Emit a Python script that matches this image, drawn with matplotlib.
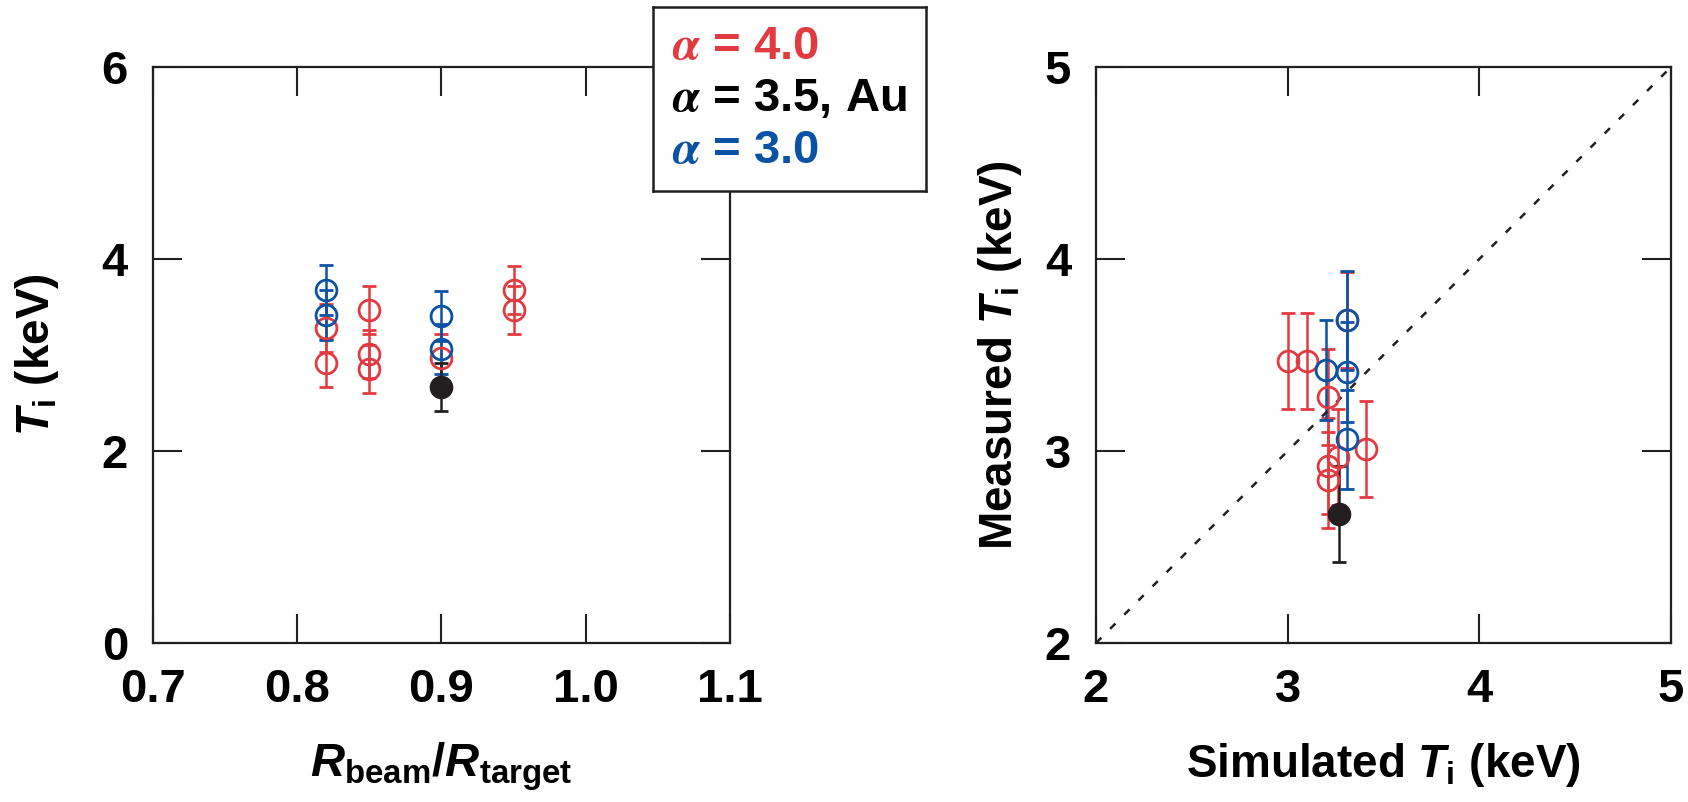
import numpy as np
import matplotlib
matplotlib.use("Agg")
import matplotlib.pyplot as plt

plt.rcParams.update({
    "font.family": ["Liberation Sans", "DejaVu Sans"],
    "font.weight": "bold",
    "axes.labelweight": "bold",
    "mathtext.fontset": "custom",
    "mathtext.rm": "Liberation Sans:bold",
    "mathtext.it": "Liberation Sans:italic:bold",
    "mathtext.bf": "Liberation Sans:bold",
})

RED = "#E23A41"
BLUE = "#0A53A4"
BLACK = "#231F20"

# alpha = 4.0 shots
red_ratio = [0.82, 0.82, 0.85, 0.85, 0.85, 0.90, 0.95, 0.95]
red_ti = [3.28, 2.92, 3.47, 3.01, 2.85, 2.97, 3.68, 3.47]
red_sim = [3.21, 3.21, 3.00, 3.41, 3.21, 3.26, 3.31, 3.10]
red_err = 0.25

# alpha = 3.0 shots
blue_ratio = [0.82, 0.82, 0.90, 0.90]
blue_ti = [3.68, 3.42, 3.41, 3.06]
blue_sim = [3.31, 3.20, 3.31, 3.31]
blue_err = 0.26

# alpha = 3.5, Au
au_ratio = [0.90]
au_ti = [2.67]
au_sim = [3.27]
au_err = 0.25

legend_rows = [(r"$\alpha$ = 4.0", RED), (r"$\alpha$ = 3.5, Au", "black"), (r"$\alpha$ = 3.0", BLUE)]

W, H = 1688, 802
fig = plt.figure(figsize=(W / 100, H / 100), dpi=100)

ax1 = fig.add_axes([153 / W, 1 - 643 / H, 577 / W, 576 / H])
ax2 = fig.add_axes([1096 / W, 1 - 643 / H, 575 / W, 576 / H])

def draw_series(ax, x, y, err, color, filled=False):
    ax.errorbar(x, y, yerr=err, fmt="o", ms=15, mew=2.0,
                mfc=color if filled else "none", mec=color, color=color,
                ecolor=color, elinewidth=1.8, capsize=5, capthick=1.8)

for ax, key in [(ax1, "ratio"), (ax2, "sim")]:
    rx = red_ratio if key == "ratio" else red_sim
    bx = blue_ratio if key == "ratio" else blue_sim
    ax_ = au_ratio if key == "ratio" else au_sim
    draw_series(ax, rx, red_ti, red_err, RED)
    draw_series(ax, bx, blue_ti, blue_err, BLUE)
    draw_series(ax, ax_, au_ti, au_err, BLACK, filled=True)

# y = x reference line
ax2.plot([2, 5], [2, 5], color=BLACK, lw=1.8, linestyle=(0, (3, 5)))

ax1.set_xlim(0.7, 1.1)
ax1.set_ylim(0, 6)
ax1.set_xticks([0.7, 0.8, 0.9, 1.0, 1.1])
ax1.set_xticklabels(["0.7", "0.8", "0.9", "1.0", "1.1"])
ax1.set_yticks([0, 2, 4, 6])

ax2.set_xlim(2, 5)
ax2.set_ylim(2, 5)
ax2.set_xticks([2, 3, 4, 5])
ax2.set_yticks([2, 3, 4, 5])

for ax in (ax1, ax2):
    for s in ax.spines.values():
        s.set_linewidth(1.6)
        s.set_color(BLACK)
    ax.tick_params(direction="in", length=21, width=1.5, color=BLACK,
                   top=True, right=True, labelsize=34, pad=18)

ax1.set_xlabel(r"$R_\mathrm{beam}/R_\mathrm{target}$", fontsize=34, va="top")
ax1.xaxis.set_label_coords(0.5, -0.17)
ax1.set_ylabel(r"$T_\mathrm{i}$ (keV)", fontsize=33)
ax1.yaxis.set_label_coords(-0.16, 0.5)

ax2.set_xlabel(r"Simulated $T_\mathrm{i}$ (keV)", fontsize=33, va="top")
ax2.xaxis.set_label_coords(0.5, -0.17)
ax2.set_ylabel(r"Measured $T_\mathrm{i}$ (keV)", fontsize=33)
ax2.yaxis.set_label_coords(-0.125, 0.5)

# legend box sitting over the top edge of the left panel
leg = fig.add_axes([653 / W, 1 - 191 / H, 273 / W, 184 / H])
leg.set_xticks([])
leg.set_yticks([])
for s in leg.spines.values():
    s.set_linewidth(1.8)
    s.set_color(BLACK)
for (label, color), yy in zip(legend_rows, [0.78, 0.5, 0.22]):
    leg.text(0.07, yy, label, color=color, fontsize=34, va="center",
             ha="left", math_fontfamily="stix", transform=leg.transAxes)

fig.savefig("out.png", dpi=100)
